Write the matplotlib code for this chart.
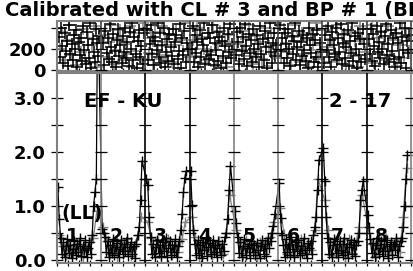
import numpy as np
import matplotlib
matplotlib.use("Agg")
import matplotlib.pyplot as plt

plt.rcParams['font.family'] = ['DejaVu Sans']

title = "Calibrated with CL # 3 and BP # 1 (BP # 1)"
panel_labels = ["1", "2", "3", "4", "5", "6", "7", "8"]
top_ticks = [0, 200, 400]
top_ticklabels = ["0", "200", ""]
bot_ticks = [0.0, 0.5, 1.0, 1.5, 2.0, 2.5, 3.0]
bot_ticklabels = ["0.0", "", "1.0", "", "2.0", "", "3.0"]

# ---- top panel (scatter) values, per segment ----
top_black = [
    [310, 120, 400, 220, 60, 350, 180, 270, 30, 420, 150, 240, 90, 330, 200, 380, 20, 260, 140, 300, 80, 410, 190, 50, 360, 230, 110, 440, 10, 290, 170, 70, 390, 250, 130, 320],
    [250, 40, 370, 160, 300, 100, 430, 210, 70, 340, 180, 20, 280, 390, 130, 230, 60, 320, 170, 400, 110, 260, 30, 360, 200, 440, 90, 310, 150, 10, 270, 380, 120, 220, 50, 350],
    [380, 90, 240, 420, 150, 310, 40, 270, 190, 440, 120, 350, 60, 230, 400, 20, 170, 290, 80, 340, 210, 130, 390, 50, 260, 330, 100, 180, 430, 10, 300, 140, 370, 70, 250, 200],
    [200, 410, 70, 330, 160, 260, 20, 380, 120, 290, 230, 440, 50, 180, 350, 100, 300, 140, 420, 40, 250, 190, 360, 80, 310, 10, 270, 130, 400, 220, 60, 340, 170, 430, 110, 240],
    [140, 360, 260, 50, 400, 180, 310, 100, 430, 220, 30, 340, 160, 280, 70, 390, 200, 120, 330, 240, 20, 410, 150, 290, 90, 370, 210, 10, 300, 440, 170, 60, 250, 350, 130, 230],
    [420, 180, 300, 60, 350, 240, 110, 390, 200, 30, 320, 150, 270, 440, 90, 210, 370, 40, 260, 130, 330, 190, 80, 300, 10, 400, 230, 160, 340, 70, 280, 120, 380, 20, 250, 170],
    [60, 330, 190, 410, 120, 280, 20, 360, 230, 150, 400, 90, 300, 170, 430, 50, 250, 340, 110, 210, 380, 30, 270, 160, 440, 80, 320, 200, 10, 350, 140, 290, 70, 390, 240, 100],
    [290, 150, 390, 80, 340, 220, 30, 410, 170, 260, 110, 360, 200, 50, 320, 430, 140, 240, 70, 380, 180, 300, 100, 20, 350, 250, 120, 440, 60, 310, 190, 400, 10, 270, 160, 330],
]
top_gray = [
    [200, 360, 90, 280, 420, 140, 330, 40, 250, 170, 390, 110, 300, 60, 230, 410, 20, 320],
    [330, 120, 260, 420, 50, 190, 300, 380, 90, 240, 150, 410, 20, 350, 180, 270, 100, 440],
    [160, 300, 40, 360, 220, 100, 410, 260, 140, 330, 70, 230, 390, 10, 280, 180, 440, 120],
    [280, 130, 400, 60, 310, 200, 90, 350, 170, 420, 30, 240, 370, 110, 260, 20, 330, 190],
    [240, 80, 370, 190, 290, 420, 130, 50, 320, 180, 260, 100, 400, 30, 220, 350, 150, 440],
    [110, 390, 250, 170, 40, 310, 420, 200, 70, 350, 150, 280, 20, 330, 230, 440, 100, 190],
    [380, 210, 70, 290, 160, 420, 100, 330, 240, 40, 190, 360, 130, 270, 20, 410, 300, 170],
    [200, 420, 60, 300, 150, 370, 250, 90, 410, 130, 280, 340, 30, 230, 390, 110, 320, 180],
]

# ---- bottom panel (line + markers) values, per segment ----
bot_black = [
    [1.35, 0.75, 0.40, 0.10, 0.32, 0.06, 0.25, 0.38, 0.12, 0.28, 0.04, 0.20, 0.35, 0.09, 0.30, 0.15, 0.40, 0.07, 0.26, 0.18, 0.36, 0.05, 0.22, 0.33, 0.11, 0.45, 1.00, 1.26, 1.50, 5.00],
    [0.57, 0.50, 0.42, 0.15, 0.34, 0.06, 0.27, 0.12, 0.38, 0.08, 0.24, 0.31, 0.05, 0.20, 0.36, 0.10, 0.29, 0.16, 0.41, 0.07, 0.23, 0.33, 0.11, 0.26, 0.04, 0.30, 0.45, 0.60, 1.10, 1.83],
    [1.50, 1.39, 0.80, 0.42, 0.10, 0.30, 0.05, 0.24, 0.37, 0.12, 0.28, 0.07, 0.33, 0.16, 0.40, 0.06, 0.21, 0.34, 0.09, 0.27, 0.14, 0.38, 0.05, 0.25, 0.35, 0.55, 0.85, 1.25, 1.52, 1.65],
    [1.65, 1.02, 0.55, 0.30, 0.08, 0.36, 0.13, 0.27, 0.04, 0.33, 0.19, 0.40, 0.07, 0.24, 0.31, 0.10, 0.37, 0.15, 0.28, 0.05, 0.34, 0.21, 0.09, 0.30, 0.17, 0.42, 0.50, 0.76, 1.30, 1.74],
    [0.90, 0.68, 0.42, 0.12, 0.33, 0.06, 0.26, 0.38, 0.09, 0.22, 0.30, 0.04, 0.35, 0.14, 0.27, 0.08, 0.31, 0.18, 0.03, 0.25, 0.36, 0.11, 0.29, 0.07, 0.40, 0.22, 0.35, 0.50, 0.62, 0.84],
    [1.43, 0.78, 0.45, 0.28, 0.06, 0.38, 0.14, 0.30, 0.09, 0.42, 0.20, 0.05, 0.33, 0.16, 0.37, 0.08, 0.26, 0.12, 0.40, 0.19, 0.04, 0.31, 0.22, 0.35, 0.10, 0.45, 0.60, 0.80, 1.30, 1.85],
    [2.07, 1.46, 0.80, 0.40, 0.10, 0.33, 0.05, 0.27, 0.38, 0.13, 0.29, 0.06, 0.35, 0.18, 0.09, 0.41, 0.15, 0.30, 0.04, 0.24, 0.36, 0.11, 0.32, 0.07, 0.28, 0.35, 0.50, 1.10, 1.30, 1.46],
    [0.83, 0.60, 0.38, 0.12, 0.31, 0.05, 0.27, 0.40, 0.10, 0.22, 0.34, 0.07, 0.29, 0.16, 0.37, 0.04, 0.25, 0.33, 0.09, 0.30, 0.19, 0.41, 0.06, 0.26, 0.35, 0.40, 0.60, 1.00, 1.50, 1.94],
]
bot_gray = [
    [0.45, 0.25, 0.08, 0.30, 0.12, 0.22, 0.36, 0.05, 0.20, 0.33, 0.40, 0.90],
    [0.60, 0.35, 0.10, 0.28, 0.06, 0.32, 0.18, 0.39, 0.07, 0.26, 0.45, 0.80],
    [0.70, 0.40, 0.12, 0.34, 0.05, 0.27, 0.38, 0.09, 0.30, 0.15, 0.38, 0.70],
    [0.80, 0.42, 0.06, 0.31, 0.20, 0.37, 0.08, 0.25, 0.34, 0.11, 0.50, 1.20],
    [0.55, 0.33, 0.09, 0.36, 0.14, 0.29, 0.04, 0.32, 0.21, 0.35, 0.42, 0.70],
    [0.95, 0.48, 0.11, 0.33, 0.07, 0.27, 0.39, 0.12, 0.30, 0.18, 0.55, 1.50],
    [1.10, 0.55, 0.08, 0.35, 0.16, 0.29, 0.05, 0.38, 0.13, 0.27, 0.60, 1.20],
    [0.50, 0.30, 0.07, 0.34, 0.19, 0.40, 0.10, 0.28, 0.36, 0.14, 0.80, 1.70],
]
sep_colors = ["#808080", "black", "black", "#808080", "#808080", "black", "black", "#808080"]

GRAY = "#808080"
n_seg = len(panel_labels)

W, H = 414, 271
fig = plt.figure(figsize=(W / 100, H / 100), dpi=100)
left = 57 / W
width = (W - 57) / W
ax_top = fig.add_axes([left, (H - 71) / H, width, 50 / H])
ax_bot = fig.add_axes([left, (H - 263) / H, width, 190 / H])

xmax = n_seg + 3 / 44.25

def seg_x(k, n, a, b):
    return k + np.linspace(a, b, n)

# top panel
for k in range(n_seg):
    g = top_gray[k]
    ax_top.plot(seg_x(k, len(g), 0.07, 0.95), g, ls="none", marker="+", ms=9, mew=1.1, color=GRAY)
    v = top_black[k]
    ax_top.plot(seg_x(k, len(v), 0.04, 0.96), v, ls="none", marker="+", ms=9, mew=1.1, color="black")

# bottom panel
xs_g, ys_g, xs_b, ys_b = [], [], [], []
for k in range(n_seg):
    g = bot_gray[k]
    xs_g.extend(seg_x(k, len(g), 0.05, 0.90)); ys_g.extend(g)
    v = bot_black[k]
    xs_b.extend(seg_x(k, len(v), 0.02, 0.92)); ys_b.extend(v)
ax_bot.plot(xs_g, ys_g, color=GRAY, lw=0.9, marker="+", ms=7, mew=1.0)
ax_bot.plot(xs_b, ys_b, color="black", lw=0.9, marker="+", ms=7, mew=1.0)

for ax, ylim, yt, ytl, septicks in [
    (ax_top, (-14, 462), top_ticks, top_ticklabels, top_ticks),
    (ax_bot, (-0.06, 3.46), bot_ticks, bot_ticklabels, bot_ticks),
]:
    ax.set_xlim(0, xmax)
    ax.set_ylim(*ylim)
    for s in ax.spines.values():
        s.set_color(GRAY)
        s.set_linewidth(1.5)
    for k in range(1, n_seg + 1):
        c = sep_colors[k - 1] if ax is ax_bot else "#404040"
        ax.axvline(k, color=c, lw=1.2, zorder=3)
        ax.plot([k] * len(septicks), septicks, ls="none", marker="_", ms=8, mew=0.9, color="black", zorder=4)
    ax.set_yticks(yt)
    ax.set_yticklabels(ytl, fontsize=13, fontweight="bold")
    ax.tick_params(axis="y", direction="inout", length=8, width=0.9, pad=4, color="black")
    ax.set_xticks(np.arange(0, n_seg + 0.01, 0.25))
    ax.set_xticklabels([])
    ax.tick_params(axis="x", direction="inout", length=5, width=0.9, color="black")

# annotations
ax_bot.text(1.5, 2.94, "EF - KU", fontsize=14, fontweight="bold", ha="center", va="center", zorder=5)
ax_bot.text(6.85, 2.94, "2 - 17", fontsize=14, fontweight="bold", ha="center", va="center", zorder=5)
ax_bot.text(0.57, 0.86, "(LL)", fontsize=13.5, fontweight="bold", ha="center", va="center", zorder=5)
for k, lab in enumerate(panel_labels):
    ax_bot.text(k + 0.34, 0.43, lab, fontsize=13.5, fontweight="bold", ha="center", va="center", zorder=5)

fig.text(5 / W, 1 - 16 / H, title, fontsize=14, fontweight="bold", ha="left", va="baseline")

fig.savefig("out.png", dpi=100)
